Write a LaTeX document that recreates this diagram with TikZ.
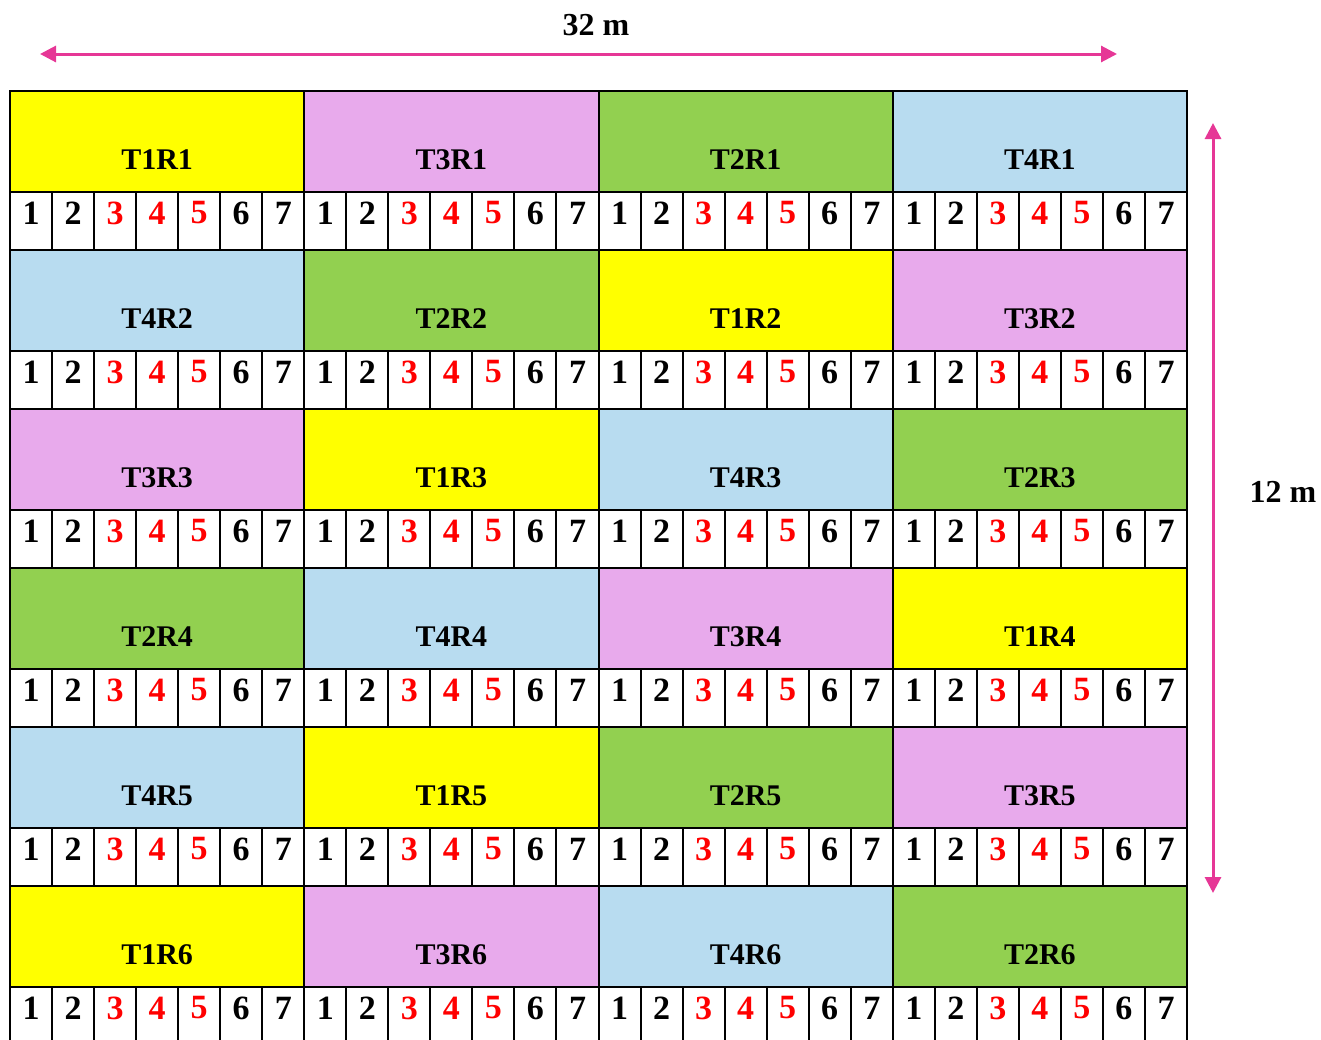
\documentclass[tikz,border=0pt]{standalone}
\usepackage{fontspec}
\setmainfont{Liberation Serif}
\usepackage{xcolor}
\usetikzlibrary{arrows.meta}
\definecolor{ParcelaT1}{RGB}{255,255,0}
\definecolor{ParcelaT2}{RGB}{146,208,80}
\definecolor{ParcelaT3}{RGB}{232,170,236}
\definecolor{ParcelaT4}{RGB}{184,220,240}
\definecolor{RojoNumero}{RGB}{255,0,0}
\definecolor{MagentaCota}{RGB}{230,55,150}

\begin{document}
\begin{tikzpicture}[x=0.5pt,y=-0.5pt,>={Triangle[length=8pt,width=8pt]},
  parcela/.style={draw=black,line width=1pt},
  etiqueta/.style={font=\fontsize{15}{18}\selectfont\bfseries},
  numero/.style={font=\fontsize{17}{20}\selectfont\bfseries},
  cota/.style={<->,line width=1.5pt,MagentaCota},
  cotatexto/.style={font=\fontsize{16}{19}\selectfont\bfseries}]
  \useasboundingbox (0,0) rectangle (1321,1039);
  \clip (0,0) rectangle (1321,1039);
  % bloques y parcelas
  \foreach \fila/\lista in {1/{1,3,2,4},2/{4,2,1,3},3/{3,1,4,2},4/{2,4,3,1},5/{4,1,2,3},6/{1,3,4,2}}{
    \pgfmathsetmacro{\ya}{91+(\fila-1)*159}
    \foreach \t [count=\c from 0] in \lista {
      \pgfmathsetmacro{\xa}{10+\c*294.25}
      \draw[parcela,fill=ParcelaT\t] (\xa,\ya) rectangle ++(294.25,101);
      \node[etiqueta] (parcela-\fila-\t) at (\xa+147.1,\ya+69) {T\t R\fila};
      \foreach \k/\tinta in {1/black,2/black,3/RojoNumero,4/RojoNumero,5/RojoNumero,6/black,7/black}{
        \draw[parcela,fill=white] (\xa+\k*42.04-42.04,\ya+101) rectangle ++(42.04,58);
        \node[numero,text=\tinta] (num-\fila-\c-\k) at (\xa+\k*42.04-21.02,\ya+122) {\k};
      }
    }
  }
  % cotas
  \coordinate (anchoIzq) at (40,54);
  \coordinate (anchoDer) at (1117,54);
  \draw[cota] (anchoIzq) -- (anchoDer);
  \node[cotatexto] (ancho) at (596,25) {32 m};
  \coordinate (largoArr) at (1213,123);
  \coordinate (largoAba) at (1213,893);
  \draw[cota] (largoArr) -- (largoAba);
  \node[cotatexto] (largo) at (1283,492) {12 m};
\end{tikzpicture}
\end{document}
